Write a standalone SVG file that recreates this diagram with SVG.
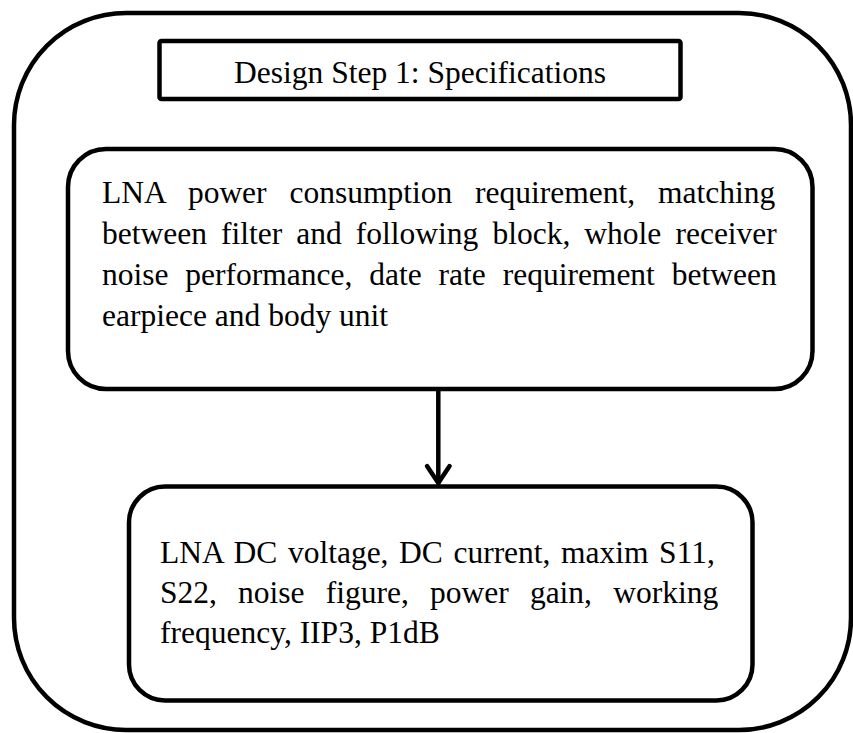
<svg xmlns="http://www.w3.org/2000/svg" width="853" height="733" viewBox="0 0 853 733">
<style>
.box{fill:#fff;stroke:#000;stroke-width:4.5}
.t{font-family:"Liberation Serif","Times New Roman",serif;font-size:31.5px;fill:#000}
.conn{stroke:#000;stroke-width:4.5;fill:none;stroke-linecap:round;stroke-linejoin:round}
</style>
<rect width="853" height="733" fill="#fff"/>
<g id="outer">
<rect class="box" x="14" y="13" width="837" height="717" rx="112" ry="112"/>
</g>
<g id="title">
<rect class="box" x="159.5" y="41" width="521" height="58" rx="2" stroke-width="5"/>
<text class="t" x="420" y="83" text-anchor="middle">Design Step 1: Specifications</text>
</g>
<g id="requirements">
<rect class="box" x="68" y="149" width="744.5" height="240" rx="38" ry="38"/>
<text class="t" x="102" y="203" word-spacing="15">LNA power consumption requirement, matching</text>
<text class="t" x="102" y="244" word-spacing="6.2">between filter and following block, whole receiver</text>
<text class="t" x="102" y="285" word-spacing="9">noise performance, date rate requirement between</text>
<text class="t" x="102" y="326">earpiece and body unit</text>
</g>
<g id="specs">
<rect class="box" x="129" y="486.5" width="623.5" height="214" rx="36" ry="36"/>
<text class="t" x="160" y="563" word-spacing="2.7">LNA DC voltage, DC current, maxim S11,</text>
<text class="t" x="160" y="603" word-spacing="13.3">S22, noise figure, power gain, working</text>
<text class="t" x="160" y="643">frequency, IIP3, P1dB</text>
</g>
<g id="connectors">
<path class="conn" d="M438.3 391 L438.3 483"/>
<path class="conn" d="M427 466 L438.3 483 L449.6 466"/>
</g>
</svg>
